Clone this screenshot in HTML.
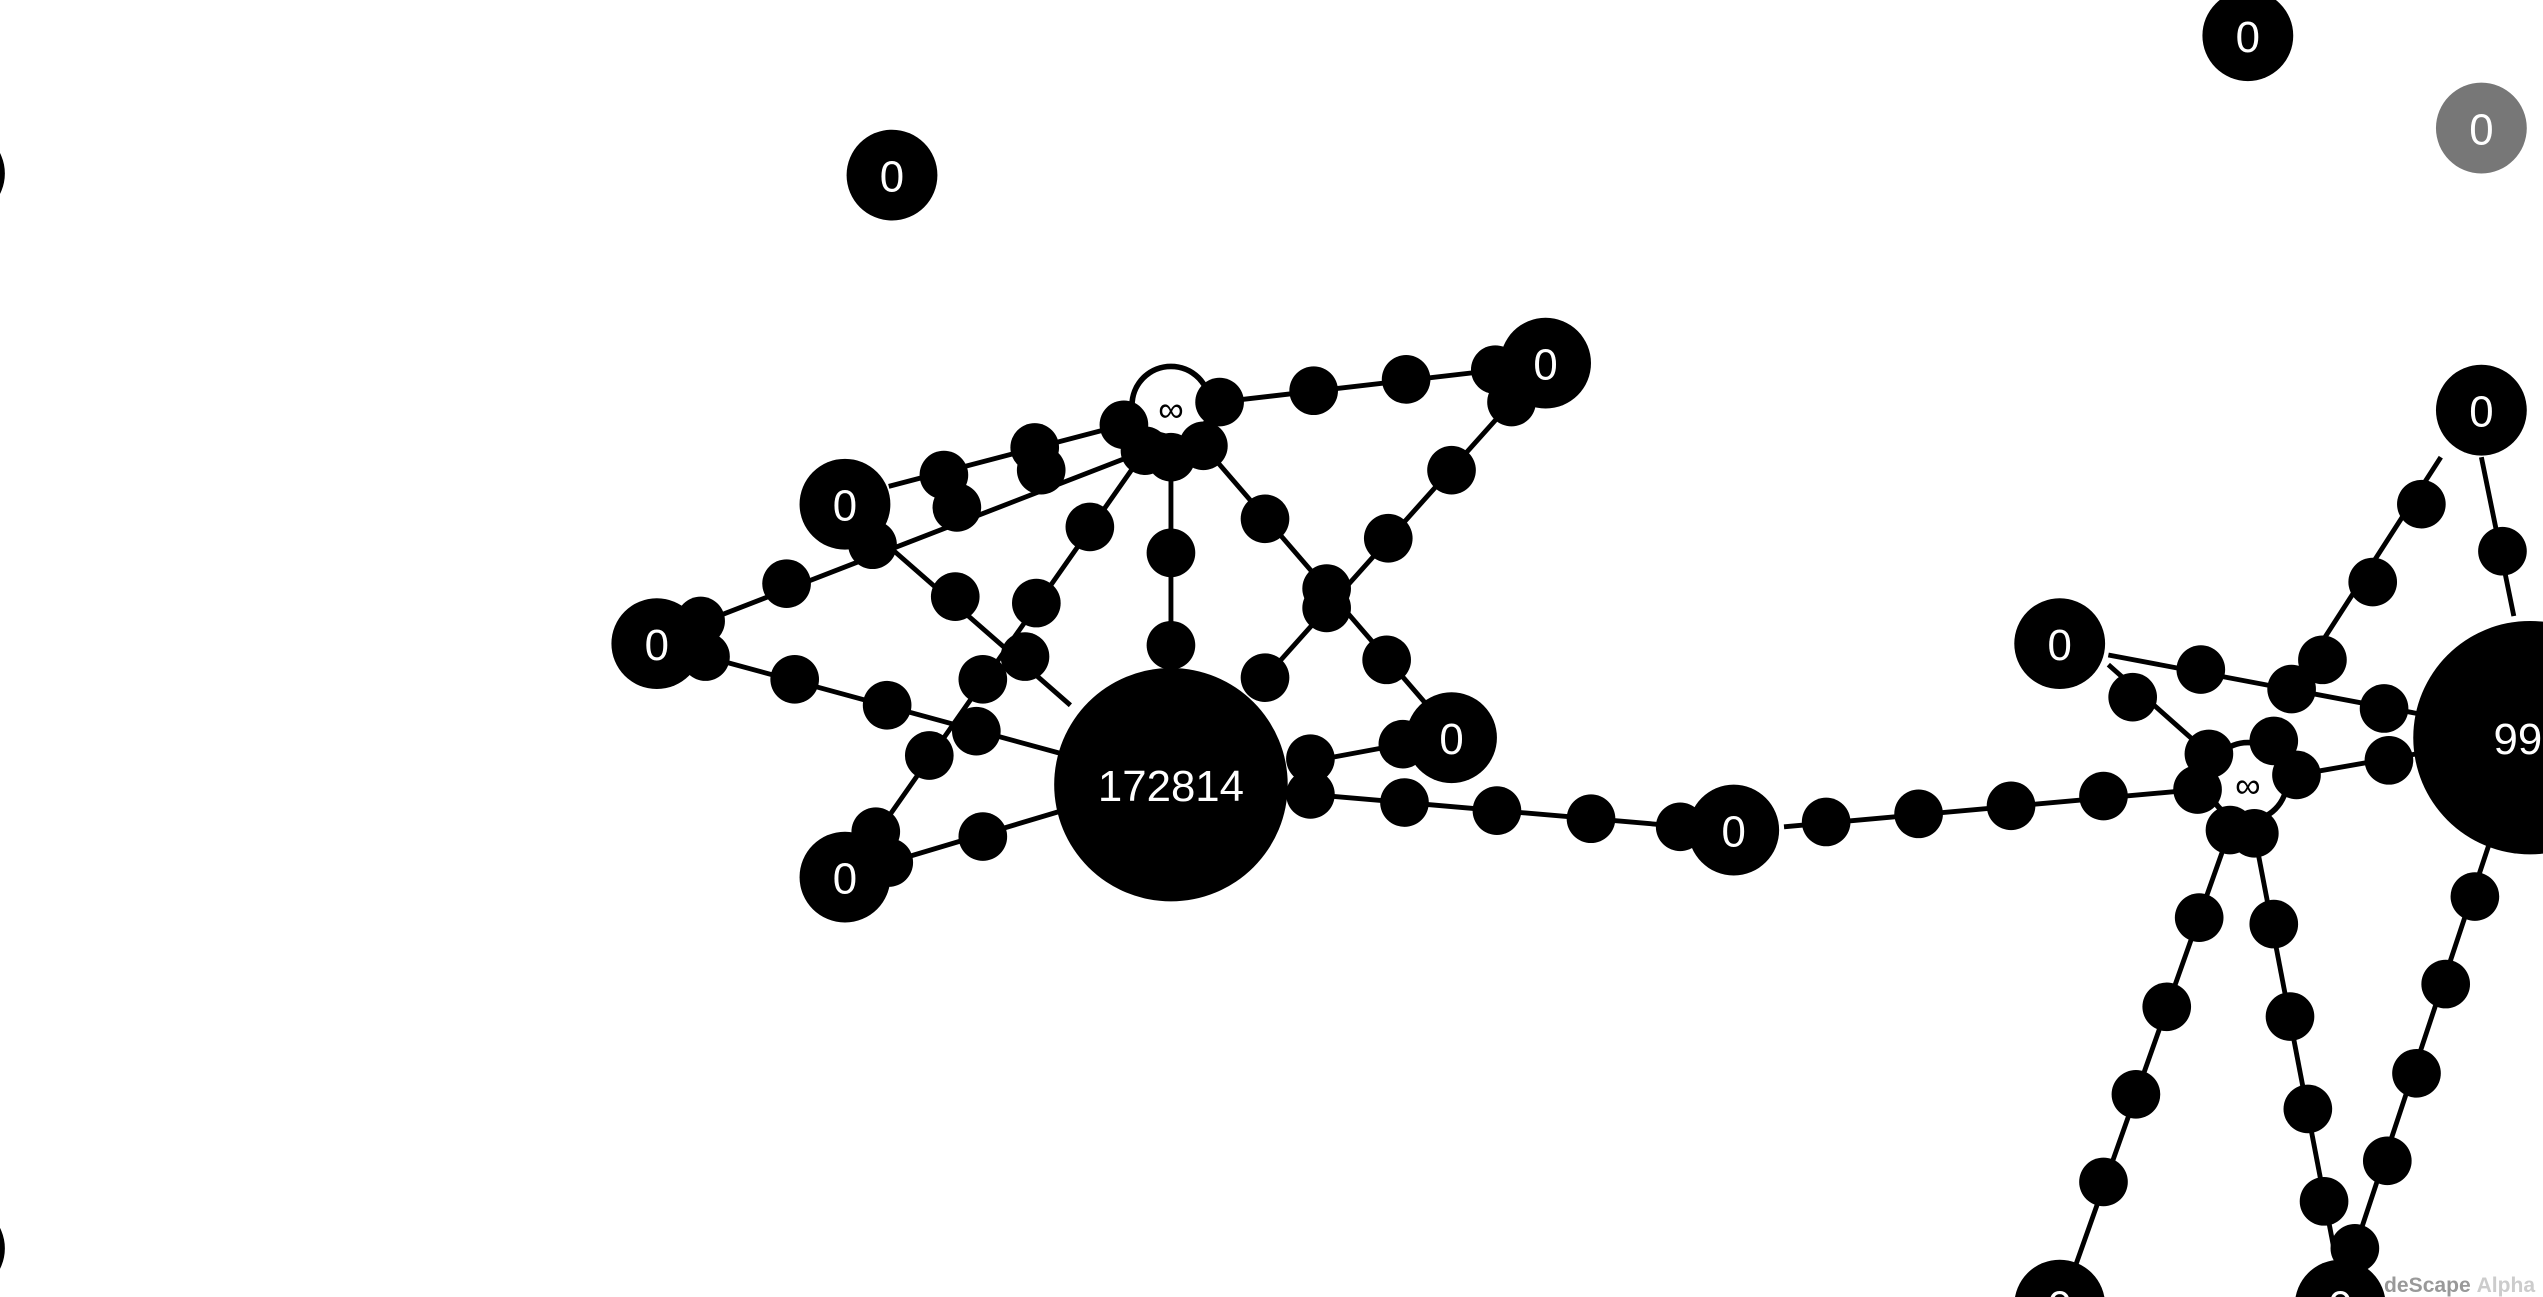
<!DOCTYPE html>
<html><head><meta charset="utf-8"><style>
html,body{margin:0;padding:0;background:#fff;overflow:hidden}
svg{display:block}
text{font-family:"Liberation Sans",sans-serif;}
</style></head><body>
<svg id="g" width="2543" height="1297" viewBox="0 0 1568 800" preserveAspectRatio="none" xmlns="http://www.w3.org/2000/svg">
<g id="edges"></g><g id="dots"></g><g id="nodes"></g>
<text x="1470" y="797" font-size="13" font-weight="bold" fill="#999">deScape <tspan fill="#ccc">Alpha</tspan></text>
</svg>
<script>
const nodes=[
 [550,108,28,"0","#000"],[1386,22,28,"0","#000"],[1530,79,28,"0","#777"],[-25,107,28,"0","#000"],
 [953,224,28,"0","#000"],[521,311,28,"0","#000"],[405,397,28,"0","#000"],[722,484,72,"172814","#000"],
 [895,455,28,"0","#000"],[521,541,28,"0","#000"],[1069,512,28,"0","#000"],[1270,397,28,"0","#000"],
 [1530,253,28,"0","#000"],[1560,455,72,"990","#000"],[1270,805,28,"0","#000"],[1443,805,28,"0","#000"],[-25,770,28,"0","#000"]
];
const edges=[
 [[693,262],[548,300],[[638,276],[582,293]]],
 [[706,278],[430,385],[[642,290],[590,313],[538,336],[485,360],[432,383]]],
 [[540,330],[660,435],[[589,368],[632,405]]],
 [[706,278],[540,515],[[672,325],[639,372],[606,419],[573,466],[540,513]]],
 [[722,282],[722,412],[[722,341],[722,398]]],
 [[742,275],[880,435],[[780,320],[818,363],[855,407]]],
 [[752,248],[925,228],[[752,248],[810,241],[867,234],[922,228]]],
 [[932,248],[780,418],[[932,248],[895,290],[856,332],[818,375],[780,418]]],
 [[435,405],[655,465],[[435,405],[490,419],[547,435],[602,451]]],
 [[548,532],[655,500],[[548,532],[606,516]]],
 [[865,459],[795,472],[[865,459],[808,468]]],
 [[1040,510],[808,490],[[866,495],[923,500],[981,505],[1036,510],[808,490]]],
 [[1355,487],[1100,510],[[1126,507],[1183,502],[1240,497],[1297,491],[1355,487]]],
 [[1300,404],[1490,440],[[1357,413],[1413,425],[1470,437]]],
 [[1300,410],[1362,465],[[1315,430],[1362,465]]],
 [[1413,425],[1505,282],[[1432,407],[1463,359],[1493,311]]],
 [[1530,282],[1550,380],[[1543,340]]],
 [[1416,478],[1490,465],[[1473,469],[1402,457],[1416,478]]],
 [[1375,512],[1280,780],[[1375,512],[1356,566],[1336,621],[1317,675],[1297,729]]],
 [[1390,514],[1440,775],[[1390,514],[1402,570],[1412,627],[1423,684],[1433,741]]],
 [[1452,770],[1535,520],[[1452,770],[1472,716],[1490,662],[1508,607],[1526,553]]],
 [[693,262],[742,275],[[693,262],[706,278],[722,282],[742,275]]]
];
const loops=[[722,250],[1386,482]];
const NS="http://www.w3.org/2000/svg";
const E=document.getElementById('edges'),D=document.getElementById('dots'),N=document.getElementById('nodes');
function mk(t,a){const e=document.createElementNS(NS,t);for(const k in a)e.setAttribute(k,a[k]);return e;}
loops.forEach(l=>{
 const c=mk('circle',{cx:l[0],cy:l[1],r:24,fill:'none',stroke:'#000','stroke-width':3.5});
 
 
 E.appendChild(c);
 const t=mk('text',{x:l[0],y:l[1]+10,'font-size':22,'text-anchor':'middle'});t.textContent='∞';
 
 
 E.appendChild(t);
});
edges.forEach(ed=>{
 const ln=mk('line',{x1:ed[0][0],y1:ed[0][1],x2:ed[1][0],y2:ed[1][1],stroke:'#000','stroke-width':3});
 
 
 E.appendChild(ln);
 ed[2].forEach(p=>{
  const c=mk('circle',{cx:p[0],cy:p[1],r:15,fill:'#000'});
  
  
  D.appendChild(c);
 });
});
nodes.forEach(n=>{
 const c=mk('circle',{cx:n[0],cy:n[1],r:n[2],fill:n[4]});
 
 
 N.appendChild(c);
 const t=mk('text',{x:n[0],y:n[1]+10,'font-size':27,'text-anchor':'middle',fill:'#fff'});
 t.textContent=n[3];
 
 
 N.appendChild(t);
});
</script>
</body></html>
